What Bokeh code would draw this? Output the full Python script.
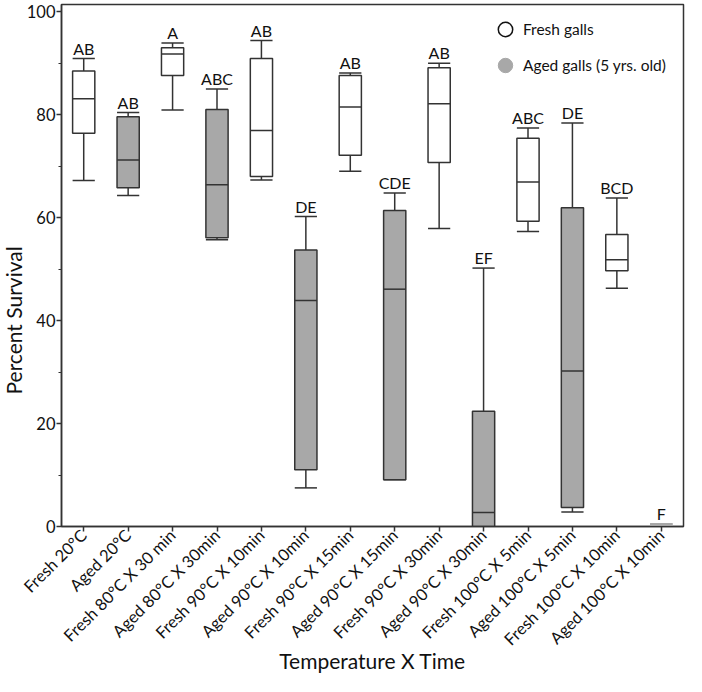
import math
from bokeh.plotting import figure
from bokeh.models import (FixedTicker, Title, Legend, LegendItem,
                          ColumnDataSource, Range1d, FactorRange)
from bokeh.core.properties import value
from bokeh.transform import dodge
from bokeh.embed import file_html
from bokeh.resources import INLINE

categories = ["Fresh 20°C", "Aged 20°C", "Fresh 80°C X 30 min", "Aged 80°C X 30min",
              "Fresh 90°C X 10min", "Aged 90°C X 10min", "Fresh 90°C X 15min",
              "Aged 90°C X 15min", "Fresh 90°C X 30min", "Aged 90°C X 30min",
              "Fresh 100°C X 5min", "Aged 100°C X 5min", "Fresh 100°C X 10min",
              "Aged 100°C X 10min"]
lower  = [67.2, 64.3, 80.9, 55.7, 67.3, 7.5, 69.0, 9.1, 57.9, 0.0, 57.3, 2.8, 46.3, 0.5]
q1     = [76.4, 65.8, 87.6, 56.1, 68.0, 11.0, 72.1, 9.1, 70.7, 0.0, 59.3, 3.7, 49.7, 0.5]
median = [83.1, 71.2, 91.8, 66.4, 76.9, 43.9, 81.5, 46.1, 82.1, 2.7, 66.9, 30.2, 51.8, 0.5]
q3     = [88.5, 79.6, 93.0, 81.0, 90.9, 53.7, 87.6, 61.4, 89.1, 22.4, 75.4, 61.9, 56.7, 0.5]
upper  = [90.9, 80.4, 93.9, 85.0, 94.4, 60.2, 88.1, 64.8, 90.0, 50.2, 77.4, 78.4, 63.8, 0.5]
letters = ["AB", "AB", "A", "ABC", "AB", "DE", "AB", "CDE", "AB", "EF",
           "ABC", "DE", "BCD", "F"]
y_ticks = [0, 20, 40, 60, 80, 100]
y_minor = [10, 30, 50, 70, 90]

FONT = "Lato"
LINE = "#333333"
GREY = "#a8a8a8"
TXT = "#111111"

fills = ["white" if c.startswith("Fresh") else GREY for c in categories]
box_lines = [GREY if (b == t) else LINE for b, t in zip(q1, q3)]

src = ColumnDataSource(dict(cat=categories, lower=lower, q1=q1, median=median,
                            q3=q3, upper=upper, letters=letters, fill=fills,
                            bline=box_lines))

p = figure(width=686, height=676, x_range=FactorRange(*categories),
           y_range=Range1d(0, 101.4), output_backend="svg", toolbar_location=None,
           min_border_left=30, min_border_right=3, min_border_top=4,
           min_border_bottom=120)

p.xgrid.grid_line_color = None
p.ygrid.grid_line_color = None
p.outline_line_color = LINE
p.outline_line_width = 1.5

L = dodge("cat", -0.25, range=p.x_range)
R = dodge("cat", 0.25, range=p.x_range)

# whiskers
p.segment(x0="cat", y0="lower", x1="cat", y1="q1", source=src, line_color=LINE, line_width=1.5)
p.segment(x0="cat", y0="q3", x1="cat", y1="upper", source=src, line_color=LINE, line_width=1.5)
# caps
p.segment(x0=L, x1=R, y0="upper", y1="upper", source=src, line_color="bline", line_width=1.5)
p.segment(x0=L, x1=R, y0="lower", y1="lower", source=src, line_color="bline", line_width=1.5)
# boxes
p.vbar(x="cat", bottom="q1", top="q3", width=0.5, source=src, fill_color="fill",
       line_color="bline", line_width=1.5)
# medians
p.segment(x0=L, x1=R, y0="median", y1="median", source=src, line_color="bline", line_width=1.5)
# letters
p.text(x="cat", y="upper", text="letters", source=src, text_align="center",
       text_baseline="bottom", y_offset=-1, text_font=value(FONT),
       text_font_size="16px", text_color=TXT)

# axes
yax = p.yaxis[0]
yax.ticker = FixedTicker(ticks=y_ticks, minor_ticks=y_minor)
yax.major_label_text_font = FONT
yax.major_label_text_font_size = "16.5px"
yax.major_label_text_color = TXT
yax.axis_line_color = LINE
yax.axis_line_width = 1.5
yax.major_tick_line_color = LINE
yax.major_tick_line_width = 1.5
yax.minor_tick_line_color = LINE
yax.major_tick_out = 5
yax.major_tick_in = 0
yax.minor_tick_out = 3
yax.minor_tick_in = 0
yax.major_label_standoff = 1

xax = p.xaxis[0]
xax.major_label_orientation = math.pi / 4
xax.major_label_text_font = FONT
xax.major_label_text_font_size = "16.5px"
xax.major_label_text_color = TXT
xax.axis_line_color = LINE
xax.axis_line_width = 1.5
xax.major_tick_line_color = LINE
xax.major_tick_line_width = 1.5
xax.major_tick_out = 5
xax.major_tick_in = 0
xax.major_label_standoff = 1
xax.axis_label = "Temperature X Time"
xax.axis_label_text_font = FONT
xax.axis_label_text_font_style = "normal"
xax.axis_label_text_font_size = "21px"
xax.axis_label_text_color = TXT
xax.axis_label_standoff = -11

ylab = Title(text="Percent Survival", align="left", offset=132, standoff=-4,
             text_font=FONT, text_font_size="21px", text_font_style="normal",
             text_color=TXT)
p.add_layout(ylab, "left")

# legend (marker-only renderers, nothing drawn in the plot area)
leg_src_fresh = ColumnDataSource(dict(x=[categories[0]], y=[float("nan")]))
leg_src_aged = ColumnDataSource(dict(x=[categories[0]], y=[float("nan")]))
r_fresh = p.scatter(x="x", y="y", source=leg_src_fresh, marker="circle", fill_color="white",
                    line_color=TXT, line_width=1.5)
r_aged = p.scatter(x="x", y="y", source=leg_src_aged, marker="circle", fill_color=GREY,
                   line_color=GREY)
leg = Legend(items=[LegendItem(label="Fresh galls", renderers=[r_fresh]),
                    LegendItem(label="Aged galls (5 yrs. old)", renderers=[r_aged])],
             location=(426, 443), glyph_width=36, glyph_height=36, spacing=0,
             padding=0, margin=0, label_standoff=0, border_line_color=None,
             background_fill_alpha=0, label_text_font=FONT,
             label_text_font_size="15.5px", label_text_color=TXT)
p.add_layout(leg)

open("out.html", "w").write(file_html(p, INLINE))
